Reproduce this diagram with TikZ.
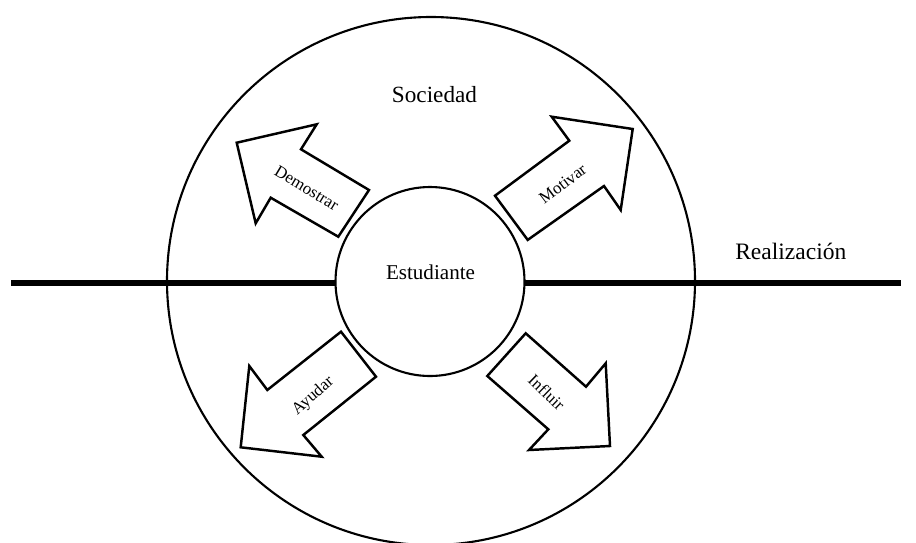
\documentclass[tikz,border=0pt]{standalone}
\usepackage{fontspec}
\setmainfont{Liberation Serif}
\begin{document}
\begin{tikzpicture}[x=0.02cm,y=-0.02cm,
  ring/.style={draw=black,line width=1.2pt,circle,inner sep=0pt},
  blockarrow/.style={draw=black,fill=white,line width=1.4pt,line join=miter},
  axis/.style={line width=3.2pt},
  biglabel/.style={anchor=base,inner sep=0pt},
  arrowlabel/.style={inner sep=0pt,font=\fontsize{9.6pt}{11pt}\selectfont}]
\useasboundingbox (0,0) rectangle (916,542);
% horizontal axis
\coordinate (L) at (11,283);
\coordinate (R) at (901,283);
\draw[axis] (L) -- (R);
% circles
\node[ring,minimum size=528*0.02cm] (society) at (431,281) {};
\node[ring,fill=white,minimum size=189*0.02cm] (student) at (430,281.5) {};
% texts
\node[biglabel,font=\fontsize{13.2pt}{15pt}\selectfont] (soc) at (434.5,102.7) {Sociedad};
\node[biglabel,font=\fontsize{12pt}{14pt}\selectfont] (est) at (430.5,279.3) {Estudiante};
\node[biglabel,font=\fontsize{13.4pt}{15pt}\selectfont] (real) at (790.8,259.3) {Realización};
% block arrows
\draw[blockarrow] (236.7,142.7) -- (316.7,124.3) -- (301,149.3) -- (369,190) -- (338.3,236.7) -- (270.7,197.7) -- (255.7,223.3) -- cycle;
\draw[blockarrow] (632.7,129) -- (551.7,116.7) -- (569.3,140.7) -- (495,195.7) -- (527.7,239.9) -- (604,186) -- (620.7,210) -- cycle;
\draw[blockarrow] (240.7,447.3) -- (249.3,366) -- (267.3,390) -- (341,331.7) -- (376,376.7) -- (303.3,435) -- (321.7,456.7) -- cycle;
\draw[blockarrow] (610,446) -- (605.7,363.3) -- (586,386.7) -- (525.7,333.3) -- (487.3,376) -- (548.3,429.3) -- (529,450) -- cycle;
% arrow labels
\node[arrowlabel,rotate=-31] (dem) at (306.7,188.3) {Demostrar};
\node[arrowlabel,rotate=37] (mot) at (562.7,184) {Motivar};
\node[arrowlabel,rotate=41] (ayu) at (313.3,396) {Ayudar};
\node[arrowlabel,rotate=-44] (inf) at (546.7,392.7) {Influir};
\end{tikzpicture}
\end{document}
